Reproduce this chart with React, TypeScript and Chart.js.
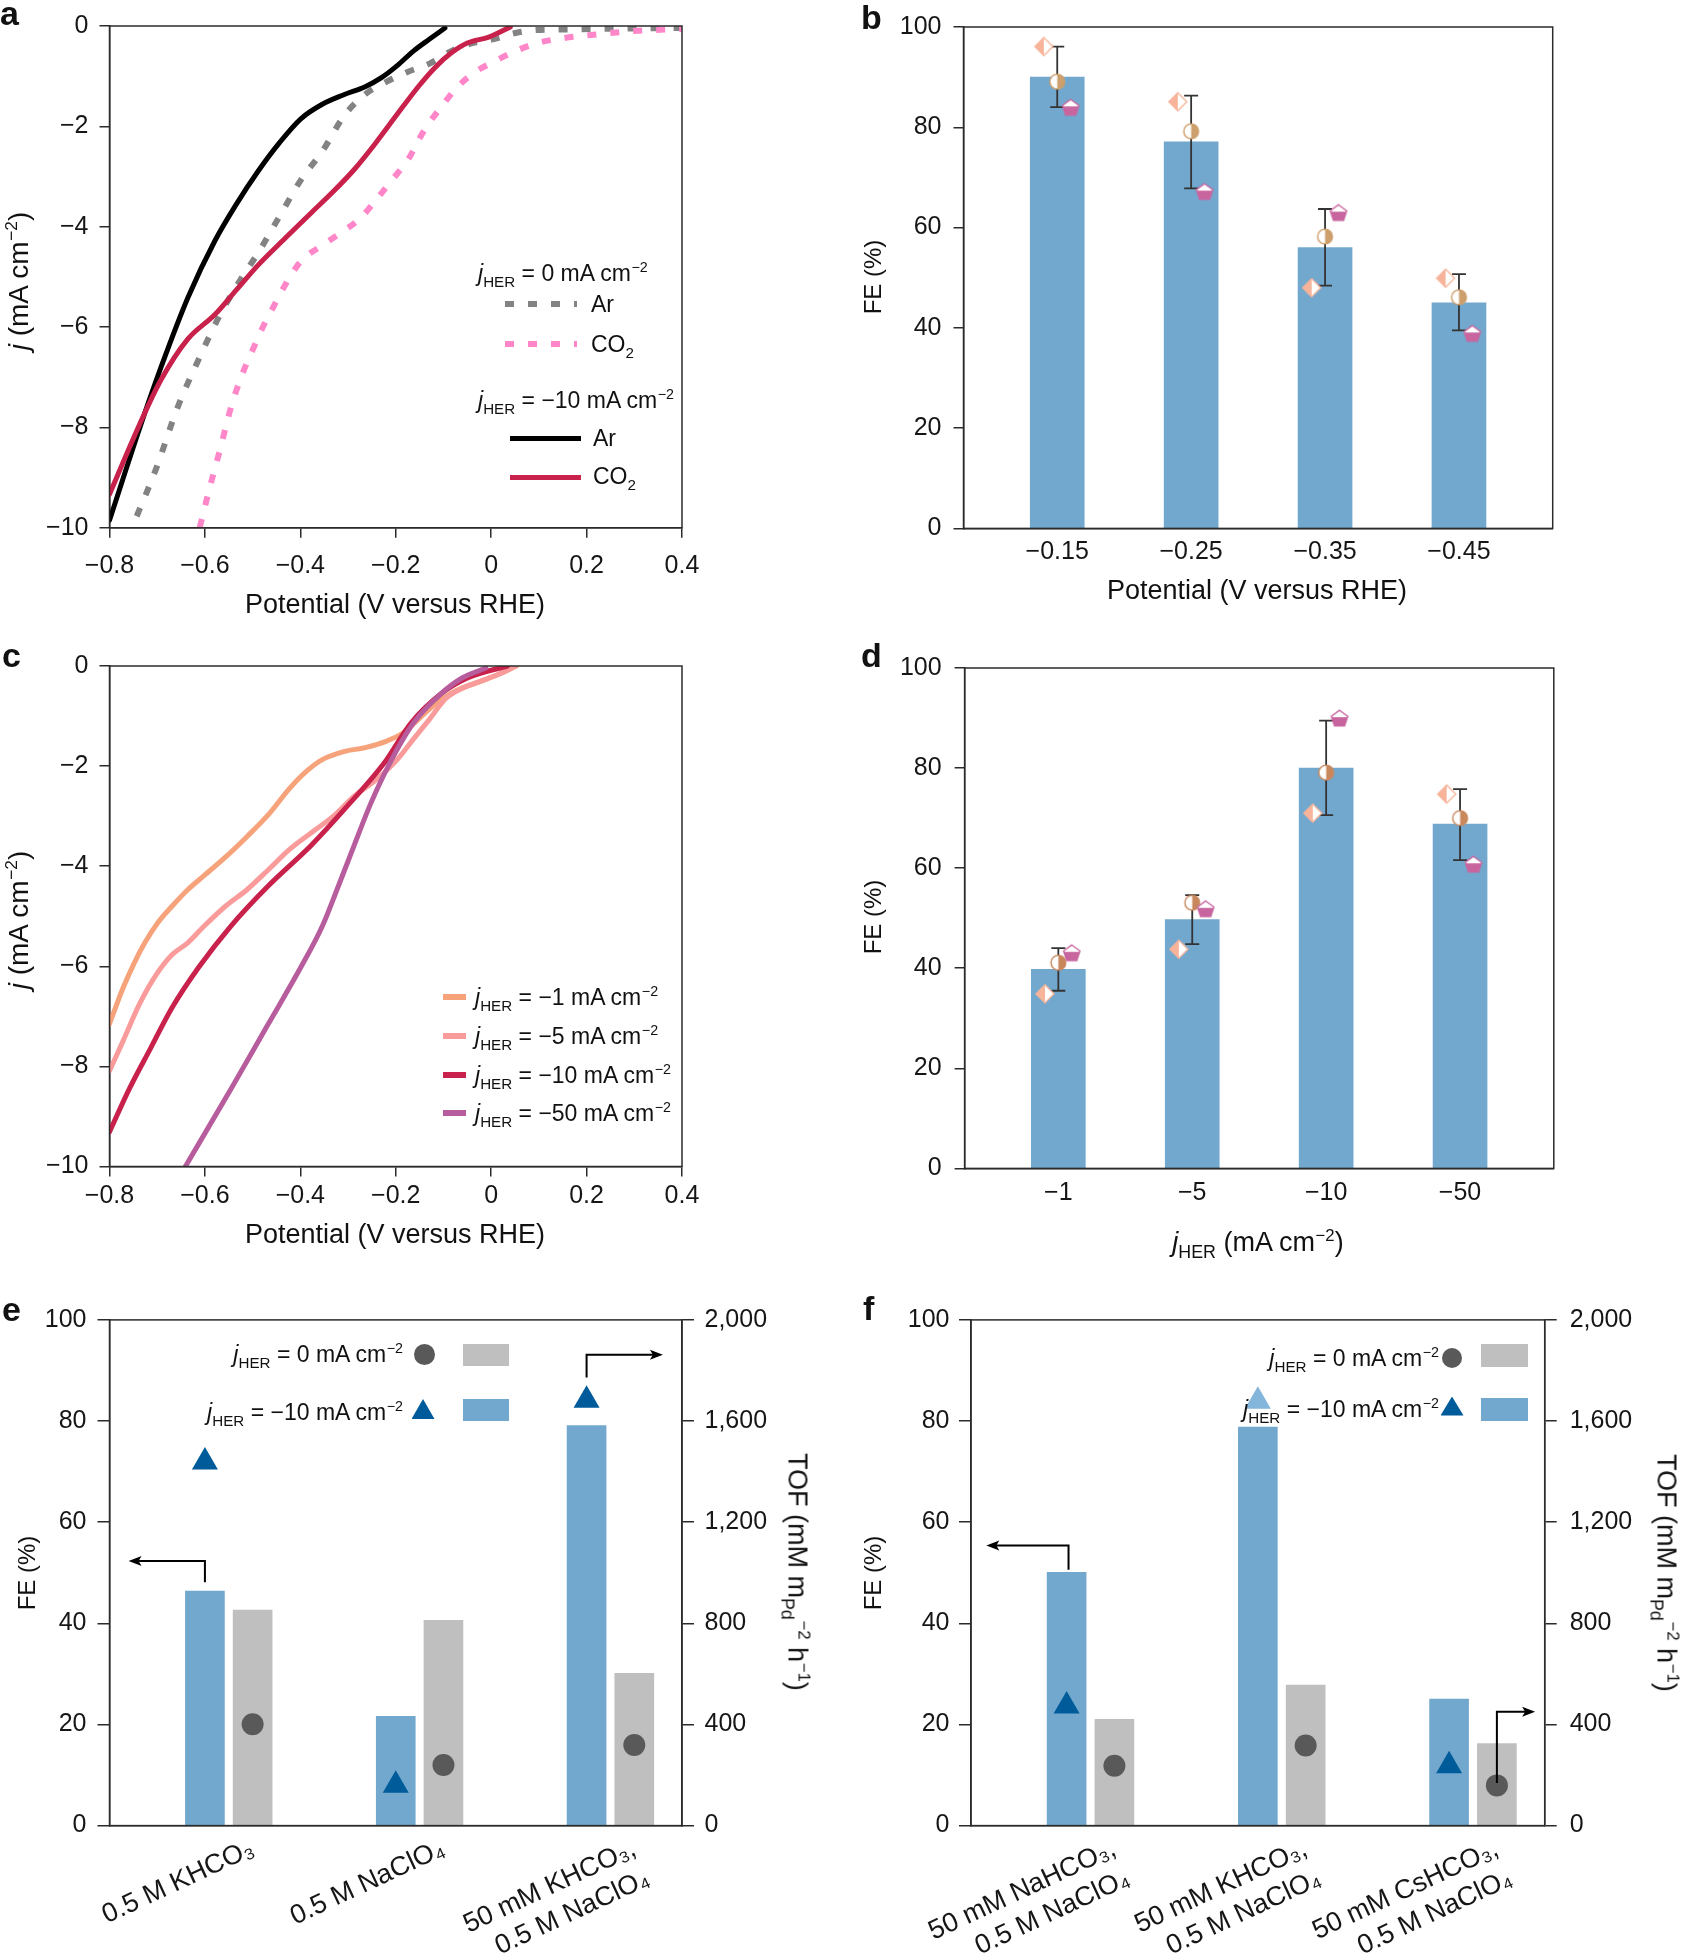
import React, { useEffect, useRef } from 'react';
import { Chart, registerables } from 'chart.js';

Chart.register(...registerables);

const FONT = '"Liberation Sans", Arial, Helvetica, sans-serif';
Chart.defaults.font.family = FONT;
Chart.defaults.color = '#1a1a1a';

const AX = '#2b2b2b';
const TICK = '#161616';
const TICK_SIZE = 25;
const DASH = [9, 14];

// ---------- Panel a : LSV, jHER = 0 (dashed) and jHER = -10 (solid) ----------
const aArX0 = [-0.743, -0.703, -0.658, -0.613, -0.568, -0.523, -0.489, -0.444, -0.399, -0.354, -0.309, -0.264, -0.219, -0.174, -0.129, -0.084, -0.039, 0.006, 0.051, 0.096, 0.15, 0.209, 0.3, 0.4];
const aArY0 = [-9.77, -8.84, -7.62, -6.64, -5.75, -5.02, -4.53, -3.8, -3.07, -2.5, -1.8, -1.36, -1.11, -0.91, -0.75, -0.5, -0.34, -0.26, -0.14, -0.08, -0.07, -0.06, -0.05, -0.04];
const aCO2X0 = [-0.611, -0.591, -0.568, -0.546, -0.523, -0.501, -0.478, -0.456, -0.433, -0.399, -0.354, -0.309, -0.275, -0.242, -0.208, -0.174, -0.141, -0.107, -0.073, -0.039, 0.006, 0.051, 0.096, 0.153, 0.209, 0.299, 0.4];
const aCO2Y0 = [-10.0, -9.24, -8.43, -7.62, -6.97, -6.48, -5.99, -5.59, -5.18, -4.69, -4.37, -4.08, -3.84, -3.47, -3.07, -2.66, -2.09, -1.64, -1.24, -0.95, -0.71, -0.5, -0.34, -0.24, -0.18, -0.1, -0.06];
const aArX10 = [-0.8, -0.737, -0.692, -0.636, -0.579, -0.534, -0.489, -0.444, -0.399, -0.354, -0.309, -0.264, -0.23, -0.197, -0.163, -0.129, -0.097];
const aArY10 = [-9.85, -8.02, -6.8, -5.42, -4.28, -3.55, -2.9, -2.33, -1.85, -1.56, -1.37, -1.21, -1.03, -0.79, -0.5, -0.26, -0.04];
const aCO2X10 = [-0.8, -0.737, -0.692, -0.636, -0.579, -0.534, -0.489, -0.433, -0.377, -0.332, -0.287, -0.242, -0.197, -0.152, -0.118, -0.084, -0.05, -0.005, 0.04];
const aCO2Y10 = [-9.33, -7.94, -7.05, -6.24, -5.75, -5.26, -4.77, -4.24, -3.72, -3.31, -2.86, -2.33, -1.76, -1.2, -0.83, -0.54, -0.34, -0.22, -0.02];

// ---------- Panel b : FE vs potential ----------
const bCategories = ['\u22120.15', '\u22120.25', '\u22120.35', '\u22120.45'];
const bFE = [90.0, 77.1, 56.0, 45.0];
const bErrLow = [84.0, 67.8, 48.4, 39.5];
const bErrHigh = [96.1, 86.3, 63.7, 50.7];
const bRun1 = [96.1, 85.1, 48.0, 49.9];
const bRun2 = [89.1, 79.2, 58.2, 46.1];
const bRun3 = [84.0, 67.2, 63.0, 38.9];

// ---------- Panel c : LSV at different jHER ----------
const c1X = [-0.8, -0.771, -0.748, -0.726, -0.698, -0.669, -0.636, -0.602, -0.557, -0.512, -0.467, -0.422, -0.388, -0.354, -0.309, -0.264, -0.219, -0.185, -0.152, -0.118, -0.073, -0.028, 0.017, 0.053];
const c1Y = [-7.15, -6.42, -5.93, -5.53, -5.12, -4.8, -4.47, -4.19, -3.82, -3.41, -2.97, -2.44, -2.11, -1.87, -1.71, -1.63, -1.5, -1.34, -1.06, -0.77, -0.49, -0.33, -0.16, 0.0];
const c5X = [-0.8, -0.771, -0.737, -0.703, -0.669, -0.636, -0.602, -0.557, -0.512, -0.467, -0.422, -0.377, -0.332, -0.287, -0.242, -0.197, -0.163, -0.129, -0.095, -0.061, -0.016, 0.017, 0.051];
const c5Y = [-8.09, -7.48, -6.75, -6.18, -5.77, -5.53, -5.2, -4.8, -4.47, -4.07, -3.66, -3.33, -3.01, -2.6, -2.28, -1.87, -1.46, -1.06, -0.65, -0.45, -0.28, -0.16, 0.0];
const c10X = [-0.8, -0.759, -0.714, -0.669, -0.613, -0.546, -0.467, -0.377, -0.298, -0.225, -0.168, -0.107, -0.05, 0.034];
const c10Y = [-9.31, -8.46, -7.64, -6.83, -6.02, -5.2, -4.39, -3.58, -2.76, -1.95, -1.14, -0.57, -0.24, 0.0];
const c50X = [-0.641, -0.546, -0.467, -0.399, -0.354, -0.32, -0.287, -0.253, -0.213, -0.163, -0.107, -0.061, -0.011];
const c50Y = [-10.0, -8.46, -7.15, -6.02, -5.2, -4.39, -3.58, -2.76, -1.95, -1.14, -0.57, -0.24, -0.04];

// ---------- Panel d : FE vs jHER ----------
const dCategories = ['\u22121', '\u22125', '\u221210', '\u221250'];
const dFE = [39.8, 49.7, 80.0, 68.8];
const dErrLow = [35.5, 44.8, 70.6, 61.6];
const dErrHigh = [44.0, 54.6, 89.5, 75.8];
const dRun1 = [34.9, 43.8, 71.0, 74.8];
const dRun2 = [41.1, 53.1, 79.1, 70.0];
const dRun3 = [43.1, 51.9, 90.0, 60.8];

// ---------- Panel e : electrolytes ----------
const eCategories = [['0.5 M KHCO\u2083'], ['0.5 M NaClO\u2084'], ['50 mM KHCO\u2083,', '0.5 M NaClO\u2084']];
const eFE10 = [46.4, 21.6, 79.1];
const eFE0 = [42.6, 40.6, 30.1];
const eTOF10 = [1438, 160, 1682];
const eTOF0 = [401, 240, 319];
const eArrows = [
  { x: 0, y0: 48.1, y1: 52.3, x1: -0.4 },
  { x: 2, y0: 88.6, y1: 93.1, x1: 2.4 },
];

// ---------- Panel f : cations ----------
const fCategories = [['50 mM NaHCO\u2083,', '0.5 M NaClO\u2084'], ['50 mM KHCO\u2083,', '0.5 M NaClO\u2084'], ['50 mM CsHCO\u2083,', '0.5 M NaClO\u2084']];
const fFE10 = [50.1, 78.8, 25.0];
const fFE0 = [21.0, 27.8, 16.2];
const fTOF10 = [473, 1678, 237];
const fTOF0 = [237, 317, 159];
const fArrows = [
  { x: 0.01, y0: 50.6, y1: 55.4, x1: -0.42 },
  { x: 2.25, y0: 8.4, y1: 22.5, x1: 2.45 },
];

// ---------- colours ----------
const GRAY_LINE = '#838383';
const PINK_LINE = '#FF86C8';
const BLACK = '#000000';
const CRIMSON = '#C8214B';
const ORANGE = '#F6A27B';
const LPINK = '#F89B9A';
const PURPLE = '#B75C9C';
const BLUE_BAR = '#72A8CE';
const GRAY_BAR = '#BFBFBF';
const DARK_BLUE = '#005B9A';
const LIGHT_TRI = '#84B5DA';
const DARK_GRAY = '#595959';
const DIAMOND_C = '#F7B49A';
const CIRCLE_B = '#CD9F6C';
const CIRCLE_D = '#C9875C';
const PENT_C = '#C8659F';

const fmtNum = (v: number) => {
  const r = Math.round(v * 1000) / 1000;
  if (r === 0) return '0';
  return r < 0 ? '\u2212' + String(Math.abs(r)) : String(r);
};
const fmtComma = (v: number) => Math.round(v).toLocaleString('en-US');

const boxPlugin = {
  id: 'box',
  afterDraw(chart: any) {
    const { ctx, chartArea: a } = chart;
    ctx.save();
    ctx.strokeStyle = AX;
    ctx.lineWidth = 1.5;
    ctx.strokeRect(a.left, a.top, a.right - a.left, a.bottom - a.top);
    ctx.restore();
  },
};

function errorPlugin(low: number[], high: number[]) {
  return {
    id: 'errbars',
    afterDatasetDraw(chart: any, args: any) {
      if (args.meta.type !== 'bar') return;
      const xs = chart.scales.x;
      const ys = chart.scales.y;
      const ctx = chart.ctx;
      ctx.save();
      ctx.strokeStyle = '#333333';
      ctx.lineWidth = 1.8;
      low.forEach((lo, i) => {
        const px = xs.getPixelForValue(i);
        const p0 = ys.getPixelForValue(lo);
        const p1 = ys.getPixelForValue(high[i]);
        ctx.beginPath();
        ctx.moveTo(px, p0);
        ctx.lineTo(px, p1);
        ctx.moveTo(px - 7, p0);
        ctx.lineTo(px + 7, p0);
        ctx.moveTo(px - 7, p1);
        ctx.lineTo(px + 7, p1);
        ctx.stroke();
      });
      ctx.restore();
    },
  };
}

function arrowPlugin(arrows: { x: number; y0: number; y1: number; x1: number }[]) {
  return {
    id: 'arrows',
    afterDatasetsDraw(chart: any) {
      const xs = chart.scales.x;
      const ys = chart.scales.y;
      const ctx = chart.ctx;
      ctx.save();
      ctx.strokeStyle = '#000';
      ctx.fillStyle = '#000';
      ctx.lineWidth = 2;
      arrows.forEach((a) => {
        const px = xs.getPixelForValue(a.x);
        const px1 = xs.getPixelForValue(a.x1);
        const py0 = ys.getPixelForValue(a.y0);
        const py1 = ys.getPixelForValue(a.y1);
        const dir = Math.sign(px1 - px);
        ctx.beginPath();
        ctx.moveTo(px, py0);
        ctx.lineTo(px, py1);
        ctx.lineTo(px1 - dir * 6, py1);
        ctx.stroke();
        ctx.beginPath();
        ctx.moveTo(px1, py1);
        ctx.lineTo(px1 - dir * 13, py1 - 5);
        ctx.lineTo(px1 - dir * 10, py1);
        ctx.lineTo(px1 - dir * 13, py1 + 5);
        ctx.closePath();
        ctx.fill();
      });
      ctx.restore();
    },
  };
}

function halfMarker(shape: 'diamond' | 'circle' | 'pentagon', color: string, r: number): HTMLCanvasElement {
  const s = Math.ceil(2 * r + 4);
  const c = document.createElement('canvas');
  c.width = s;
  c.height = s;
  const g = c.getContext('2d')!;
  const cx = s / 2;
  const cy = s / 2;
  const p = new Path2D();
  if (shape === 'diamond') {
    p.moveTo(cx, cy - r);
    p.lineTo(cx + r, cy);
    p.lineTo(cx, cy + r);
    p.lineTo(cx - r, cy);
    p.closePath();
  } else if (shape === 'circle') {
    p.arc(cx, cy, r, 0, Math.PI * 2);
  } else {
    for (let k = 0; k < 5; k++) {
      const a = -Math.PI / 2 + (k * 2 * Math.PI) / 5;
      const px = cx + r * Math.cos(a);
      const py = cy + 0.8 + r * Math.sin(a);
      if (k === 0) p.moveTo(px, py);
      else p.lineTo(px, py);
    }
    p.closePath();
  }
  g.fillStyle = '#ffffff';
  g.fill(p);
  g.save();
  g.clip(p);
  g.fillStyle = color;
  if (shape === 'diamond') g.fillRect(0, 0, cx, s);
  else if (shape === 'circle') g.fillRect(cx, 0, s - cx, s);
  else g.fillRect(0, cy - 0.1 * r, s, s);
  g.restore();
  g.lineWidth = 1.4;
  g.strokeStyle = color;
  g.stroke(p);
  return c;
}

const baseOptions = {
  responsive: false,
  maintainAspectRatio: false,
  animation: false as const,
  events: [] as any[],
  plugins: { legend: { display: false }, tooltip: { enabled: false } },
};

function yCfg(o: { min: number; max: number; step: number; width: number; pad: number; tick?: number; fmt?: (v: number) => string; position?: 'left' | 'right' }) {
  return {
    type: 'linear',
    position: o.position ?? 'left',
    min: o.min,
    max: o.max,
    ticks: { stepSize: o.step, padding: o.pad, font: { size: TICK_SIZE }, color: TICK, callback: (v: any) => (o.fmt ?? fmtNum)(Number(v)) },
    grid: { drawOnChartArea: false, drawTicks: true, tickLength: o.tick ?? 10, color: AX, lineWidth: 1.5 },
    border: { display: true, color: AX, width: 1.5 },
    afterFit: (s: any) => {
      s.width = o.width;
    },
  };
}

function potentialX(height: number, pad: number) {
  return {
    type: 'linear',
    min: -0.8,
    max: 0.4,
    ticks: { stepSize: 0.2, padding: pad, font: { size: TICK_SIZE }, color: TICK, callback: (v: any) => fmtNum(Number(v)) },
    grid: { drawOnChartArea: false, drawTicks: true, tickLength: 10, color: AX, lineWidth: 1.5 },
    border: { display: true, color: AX, width: 1.5 },
    afterFit: (s: any) => {
      s.height = height;
    },
  };
}

function catX(o: { min: number; max: number; ticks: number[]; labels: (string | string[])[]; height: number; pad: number; rotation?: number; size?: number }) {
  return {
    type: 'linear',
    min: o.min,
    max: o.max,
    offset: false,
    afterBuildTicks: (s: any) => {
      s.ticks = o.ticks.map((v) => ({ value: v }));
    },
    ticks: {
      padding: o.pad,
      autoSkip: false,
      minRotation: o.rotation ?? 0,
      maxRotation: o.rotation ?? 0,
      font: { size: o.size ?? TICK_SIZE, lineHeight: 1.22 },
      color: TICK,
      callback: (_v: any, i: number) => o.labels[i],
    },
    grid: { display: false, drawTicks: false },
    border: { display: true, color: AX, width: 1.5 },
    afterFit: (s: any) => {
      s.height = o.height;
    },
  };
}

function lineDS(xs: number[], ys: number[], color: string, order: number, dash?: number[]) {
  return {
    data: xs.map((x, i) => ({ x, y: ys[i] })),
    showLine: true,
    borderColor: color,
    backgroundColor: color,
    borderWidth: dash ? 6 : 5,
    pointRadius: 0,
    cubicInterpolationMode: 'monotone',
    tension: 0.4,
    borderDash: dash ?? [],
    borderCapStyle: dash ? 'butt' : 'round',
    order,
  };
}

function buildA() {
  return {
    type: 'scatter',
    data: {
      datasets: [
        lineDS(aArX0, aArY0, GRAY_LINE, 4, DASH),
        lineDS(aCO2X0, aCO2Y0, PINK_LINE, 3, DASH),
        lineDS(aArX10, aArY10, BLACK, 2),
        lineDS(aCO2X10, aCO2Y10, CRIMSON, 1),
      ],
    },
    options: {
      ...baseOptions,
      layout: { padding: { left: 0, top: 25.7, right: 160, bottom: 0 } },
      scales: {
        x: potentialX(112.2, 13),
        y: yCfg({ min: -10, max: 0, step: 2, width: 109.5, pad: 11 }),
      },
    },
    plugins: [boxPlugin],
  };
}

function buildC() {
  return {
    type: 'scatter',
    data: {
      datasets: [
        lineDS(c1X, c1Y, ORANGE, 4),
        lineDS(c5X, c5Y, LPINK, 3),
        lineDS(c10X, c10Y, CRIMSON, 2),
        lineDS(c50X, c50Y, PURPLE, 1),
      ],
    },
    options: {
      ...baseOptions,
      layout: { padding: { left: 0, top: 24.5, right: 160, bottom: 0 } },
      scales: {
        x: potentialX(113.5, 5),
        y: yCfg({ min: -10, max: 0, step: 2, width: 109.5, pad: 11 }),
      },
    },
    plugins: [boxPlugin],
  };
}

function buildFE(o: { cats: string[]; fe: number[]; lo: number[]; hi: number[]; r1: number[]; r2: number[]; r3: number[]; circleColor: string; yW: number; top: number; right: number; xH: number; xPad: number; yPad: number }) {
  const dia = halfMarker('diamond', DIAMOND_C, 9);
  const cir = halfMarker('circle', o.circleColor, 7.4);
  const pen = halfMarker('pentagon', PENT_C, 8.6);
  return {
    type: 'bar',
    data: {
      datasets: [
        { type: 'bar', data: o.fe.map((y, i) => ({ x: i, y })), backgroundColor: BLUE_BAR, barThickness: 54, grouped: false, order: 10 },
        { type: 'scatter', data: o.r1.map((y, i) => ({ x: i - 0.1, y })), pointStyle: dia, pointRadius: 9, order: 3 },
        { type: 'scatter', data: o.r2.map((y, i) => ({ x: i, y })), pointStyle: cir, pointRadius: 8, order: 2 },
        { type: 'scatter', data: o.r3.map((y, i) => ({ x: i + 0.1, y })), pointStyle: pen, pointRadius: 9, order: 1 },
      ],
    },
    options: {
      ...baseOptions,
      layout: { padding: { left: 0, top: o.top, right: o.right, bottom: 0 } },
      scales: {
        x: catX({ min: -0.7, max: 3.7, ticks: [0, 1, 2, 3], labels: o.cats, height: o.xH, pad: o.xPad }),
        y: yCfg({ min: 0, max: 100, step: 20, width: o.yW, pad: o.yPad }),
      },
    },
    plugins: [errorPlugin(o.lo, o.hi), boxPlugin],
  };
}

function buildTOF(o: { cats: string[][]; fe10: number[]; fe0: number[]; tof10: number[]; tof0: number[]; triColors: string[]; arrows: { x: number; y0: number; y1: number; x1: number }[]; yW: number; right: number; yPad: number; y2Pad: number }) {
  return {
    type: 'bar',
    data: {
      datasets: [
        { type: 'bar', data: o.fe10.map((y, i) => ({ x: i, y })), backgroundColor: BLUE_BAR, barThickness: 39, grouped: false, yAxisID: 'y', order: 10 },
        { type: 'bar', data: o.fe0.map((y, i) => ({ x: i + 0.25, y })), backgroundColor: GRAY_BAR, barThickness: 39, grouped: false, yAxisID: 'y', order: 9 },
        { type: 'scatter', data: o.tof10.map((y, i) => ({ x: i, y })), yAxisID: 'y2', pointStyle: 'triangle', pointRadius: 15, pointBorderWidth: 0, pointBackgroundColor: o.triColors, backgroundColor: o.triColors, order: 2 },
        { type: 'scatter', data: o.tof0.map((y, i) => ({ x: i + 0.25, y })), yAxisID: 'y2', pointStyle: 'circle', pointRadius: 11, pointBorderWidth: 0, pointBackgroundColor: DARK_GRAY, backgroundColor: DARK_GRAY, order: 1 },
      ],
    },
    options: {
      ...baseOptions,
      layout: { padding: { left: 0, top: 39.9, right: o.right, bottom: 0 } },
      scales: {
        x: catX({ min: -0.5, max: 2.5, ticks: [0.25, 1.25, 2.25], labels: o.cats, height: 134.4, pad: 7, rotation: 25, size: 27 }),
        y: yCfg({ min: 0, max: 100, step: 20, width: o.yW, pad: o.yPad, tick: 12 }),
        y2: yCfg({ min: 0, max: 2000, step: 400, width: 100, pad: o.y2Pad, tick: 12, fmt: fmtComma, position: 'right' }),
      },
    },
    plugins: [arrowPlugin(o.arrows), boxPlugin],
  };
}

function ChartBox({ x, y, w, h, build }: { x: number; y: number; w: number; h: number; build: () => any }) {
  const ref = useRef<HTMLCanvasElement | null>(null);
  useEffect(() => {
    if (!ref.current) return;
    const chart = new Chart(ref.current, build());
    return () => chart.destroy();
  }, []);
  return <canvas ref={ref} width={w} height={h} style={{ position: 'absolute', left: x, top: y, width: w, height: h }} />;
}

type TP = { x: number; y: number; size?: number; rot?: number; anchor?: 'l' | 'c' | 'r'; bold?: boolean; children: React.ReactNode };
function Txt({ x, y, size = 23, rot = 0, anchor = 'c', bold = false, children }: TP) {
  const tx = anchor === 'l' ? '0' : anchor === 'r' ? '-100%' : '-50%';
  return (
    <div
      style={{
        position: 'absolute',
        left: x,
        top: y,
        transform: `translate(${tx}, -50%) rotate(${rot}deg)`,
        fontSize: size,
        lineHeight: 1,
        whiteSpace: 'nowrap',
        fontWeight: bold ? 700 : 400,
        color: '#111',
      }}
    >
      {children}
    </div>
  );
}
const Sub = ({ children }: { children: React.ReactNode }) => (
  <span style={{ fontSize: '0.66em', position: 'relative', top: '0.4em' }}>{children}</span>
);
const Sup = ({ children }: { children: React.ReactNode }) => (
  <span style={{ fontSize: '0.62em', position: 'relative', top: '-0.62em', marginLeft: '0.04em' }}>{children}</span>
);
const JH = () => (
  <>
    <i>j</i>
    <Sub>HER</Sub>
  </>
);

function LineSample({ x1, x2, y, color, w = 5, dash }: { x1: number; x2: number; y: number; color: string; w?: number; dash?: number[] }) {
  const bg = dash ? `repeating-linear-gradient(90deg, ${color} 0px, ${color} ${dash[0]}px, transparent ${dash[0]}px, transparent ${dash[0] + dash[1]}px)` : color;
  return <div style={{ position: 'absolute', left: x1, top: y - w / 2, width: x2 - x1, height: w, background: bg }} />;
}
function Rect({ x, y, w, h, color }: { x: number; y: number; w: number; h: number; color: string }) {
  return <div style={{ position: 'absolute', left: x, top: y, width: w, height: h, background: color }} />;
}
function Dot({ x, y, r, color }: { x: number; y: number; r: number; color: string }) {
  return <div style={{ position: 'absolute', left: x - r, top: y - r, width: 2 * r, height: 2 * r, borderRadius: '50%', background: color }} />;
}
function Tri({ x, y, w, h, color }: { x: number; y: number; w: number; h: number; color: string }) {
  return <div style={{ position: 'absolute', left: x - w / 2, top: y - h / 2, width: w, height: h, background: color, clipPath: 'polygon(50% 0, 100% 100%, 0 100%)' }} />;
}

export default function App() {
  return (
    <div style={{ position: 'absolute', left: 0, top: 0, width: 1685, height: 1960, background: '#fff', fontFamily: FONT, color: '#111', overflow: 'hidden' }}>
      <ChartBox x={0} y={0} w={842} h={640} build={buildA} />
      <ChartBox
        x={842}
        y={0}
        w={843}
        h={640}
        build={() => buildFE({ cats: bCategories, fe: bFE, lo: bErrLow, hi: bErrHigh, r1: bRun1, r2: bRun2, r3: bRun3, circleColor: CIRCLE_B, yW: 121.5, top: 25.3, right: 132.3, xH: 111.6, xPad: 8, yPad: 12 })}
      />
      <ChartBox x={0} y={640} w={842} h={640} build={buildC} />
      <ChartBox
        x={842}
        y={640}
        w={843}
        h={640}
        build={() => buildFE({ cats: dCategories, fe: dFE, lo: dErrLow, hi: dErrHigh, r1: dRun1, r2: dRun2, r3: dRun3, circleColor: CIRCLE_D, yW: 122.6, top: 25.3, right: 131.2, xH: 111.6, xPad: 9, yPad: 13 })}
      />
      <ChartBox
        x={0}
        y={1280}
        w={842}
        h={680}
        build={() => buildTOF({ cats: eCategories, fe10: eFE10, fe0: eFE0, tof10: eTOF10, tof0: eTOF0, triColors: [DARK_BLUE, DARK_BLUE, DARK_BLUE], arrows: eArrows, yW: 109.5, right: 60, yPad: 11, y2Pad: 10.5 })}
      />
      <ChartBox
        x={842}
        y={1280}
        w={843}
        h={680}
        build={() => buildTOF({ cats: fCategories, fe10: fFE10, fe0: fFE0, tof10: fTOF10, tof0: fTOF0, triColors: [DARK_BLUE, LIGHT_TRI, DARK_BLUE], arrows: fArrows, yW: 129, right: 40.3, yPad: 9.5, y2Pad: 13 })}
      />

      {/* panel letters */}
      <Txt x={0} y={12.7} size={34} bold anchor="l">a</Txt>
      <Txt x={861} y={16.7} size={34} bold anchor="l">b</Txt>
      <Txt x={2} y={654.7} size={34} bold anchor="l">c</Txt>
      <Txt x={861} y={654.7} size={34} bold anchor="l">d</Txt>
      <Txt x={2} y={1309} size={34} bold anchor="l">e</Txt>
      <Txt x={863} y={1308} size={34} bold anchor="l">f</Txt>

      {/* panel a */}
      <Txt x={19} y={281} rot={-90} size={28}>
        <i>j</i> (mA cm<Sup>−2</Sup>)
      </Txt>
      <Txt x={395} y={604} size={27}>Potential (V versus RHE)</Txt>
      <Txt x={478} y={273} anchor="l">
        <JH /> = 0 mA cm<Sup>−2</Sup>
      </Txt>
      <LineSample x1={505} x2={577} y={304} color={GRAY_LINE} w={6} dash={DASH} />
      <Txt x={591} y={304} anchor="l">Ar</Txt>
      <LineSample x1={505} x2={577} y={343.5} color={PINK_LINE} w={6} dash={DASH} />
      <Txt x={591} y={344} anchor="l">
        CO<Sub>2</Sub>
      </Txt>
      <Txt x={478} y={400} anchor="l">
        <JH /> = −10 mA cm<Sup>−2</Sup>
      </Txt>
      <LineSample x1={510} x2={581} y={438.6} color={BLACK} w={5} />
      <Txt x={593} y={438} anchor="l">Ar</Txt>
      <LineSample x1={510} x2={581} y={477} color={CRIMSON} w={5} />
      <Txt x={593} y={476} anchor="l">
        CO<Sub>2</Sub>
      </Txt>

      {/* panel b */}
      <Txt x={873} y={277} rot={-90} size={24}>FE (%)</Txt>
      <Txt x={1257} y={590} size={27}>Potential (V versus RHE)</Txt>

      {/* panel c */}
      <Txt x={19} y={920} rot={-90} size={28}>
        <i>j</i> (mA cm<Sup>−2</Sup>)
      </Txt>
      <Txt x={395} y={1234} size={27}>Potential (V versus RHE)</Txt>
      <LineSample x1={443} x2={466} y={997} color={ORANGE} w={6} />
      <Txt x={475} y={997} anchor="l">
        <JH /> = −1 mA cm<Sup>−2</Sup>
      </Txt>
      <LineSample x1={443} x2={466} y={1036} color={LPINK} w={6} />
      <Txt x={475} y={1036} anchor="l">
        <JH /> = −5 mA cm<Sup>−2</Sup>
      </Txt>
      <LineSample x1={443} x2={466} y={1074.5} color={CRIMSON} w={6} />
      <Txt x={475} y={1074.5} anchor="l">
        <JH /> = −10 mA cm<Sup>−2</Sup>
      </Txt>
      <LineSample x1={443} x2={466} y={1113} color={PURPLE} w={6} />
      <Txt x={475} y={1113} anchor="l">
        <JH /> = −50 mA cm<Sup>−2</Sup>
      </Txt>

      {/* panel d */}
      <Txt x={873} y={917} rot={-90} size={24}>FE (%)</Txt>
      <Txt x={1258} y={1242} size={27}>
        <JH /> (mA cm<Sup>−2</Sup>)
      </Txt>

      {/* panel e */}
      <Txt x={27} y={1573} rot={-90} size={24}>FE (%)</Txt>
      <Txt x={797} y={1572} rot={90} size={27}>
        TOF (mM m<Sub>Pd</Sub>
        <Sup>−2</Sup> h<Sup>−1</Sup>)
      </Txt>
      <Txt x={403} y={1354} anchor="r">
        <JH /> = 0 mA cm<Sup>−2</Sup>
      </Txt>
      <Dot x={424} y={1354} r={10.5} color={DARK_GRAY} />
      <Rect x={463} y={1344} w={46} h={22} color={GRAY_BAR} />
      <Txt x={403} y={1412} anchor="r">
        <JH /> = −10 mA cm<Sup>−2</Sup>
      </Txt>
      <Tri x={423} y={1409} w={23} h={20} color={DARK_BLUE} />
      <Rect x={463} y={1399} w={46} h={22} color={BLUE_BAR} />

      {/* panel f */}
      <Txt x={873} y={1573} rot={-90} size={24}>FE (%)</Txt>
      <Txt x={1666} y={1573} rot={90} size={27}>
        TOF (mM m<Sub>Pd</Sub>
        <Sup>−2</Sup> h<Sup>−1</Sup>)
      </Txt>
      <Txt x={1439} y={1358} anchor="r">
        <JH /> = 0 mA cm<Sup>−2</Sup>
      </Txt>
      <Dot x={1452} y={1357.6} r={10} color={DARK_GRAY} />
      <Rect x={1480.7} y={1344.2} w={47.3} h={22.5} color={GRAY_BAR} />
      <Txt x={1439} y={1408.6} anchor="r">
        <JH /> = −10 mA cm<Sup>−2</Sup>
      </Txt>
      <Tri x={1452} y={1406} w={23} h={19} color={DARK_BLUE} />
      <Rect x={1480.7} y={1398} w={47.3} h={23} color={BLUE_BAR} />
    </div>
  );
}
